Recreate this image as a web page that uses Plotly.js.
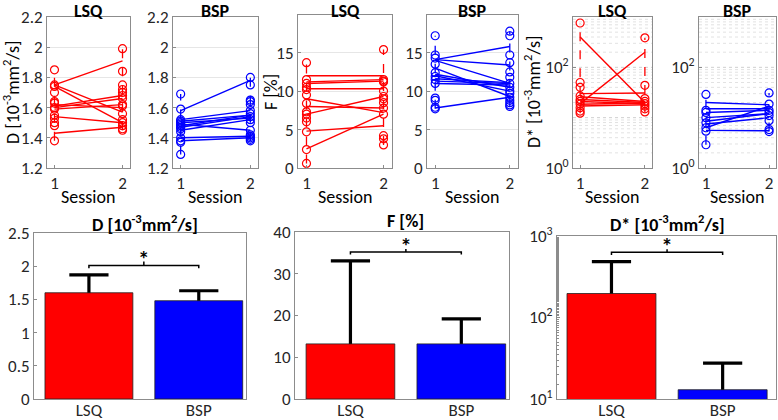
<!DOCTYPE html>
<html><head><meta charset="utf-8">
<script src="https://cdn.plot.ly/plotly-3.0.1.min.js"></script>
<style>html,body{margin:0;padding:0;background:#fff}#c{width:778px;height:420px}</style>
</head><body><div id="c"></div>
<script>
// ---------- data ----------
const sessions = [1, 2];
const methods = ['LSQ', 'BSP'];

// D [10^-3 mm^2/s] individual values (circles) and paired subject lines
const dLsqS1 = [1.85,1.75,1.74,1.70,1.64,1.63,1.60,1.59,1.55,1.53,1.50,1.48,1.38];
const dLsqS2 = [1.99,1.84,1.75,1.72,1.70,1.68,1.66,1.62,1.61,1.56,1.52,1.50,1.48,1.46,1.45];
const dLsqPair1 = [1.75,1.75,1.74,1.61,1.60,1.59,1.62,1.54,1.43];
const dLsqPair2 = [1.91,1.57,1.50,1.68,1.66,1.62,1.60,1.50,1.47];

const dBspS1 = [1.69,1.59,1.52,1.51,1.50,1.49,1.48,1.47,1.46,1.44,1.40,1.38,1.37,1.29];
const dBspS2 = [1.80,1.75,1.65,1.64,1.62,1.58,1.56,1.54,1.52,1.50,1.45,1.42,1.41,1.40,1.39,1.38];
const dBspPair1 = [1.58,1.52,1.51,1.50,1.49,1.48,1.45,1.40,1.38,1.47];
const dBspPair2 = [1.78,1.58,1.55,1.53,1.45,1.55,1.52,1.41,1.40,1.54];

// F [%]
const fLsqS1 = [13.7,11.5,11.0,10.5,10.2,9.5,8.4,7.3,7.0,6.5,6.0,4.7,2.4,0.6];
const fLsqS2 = [15.4,11.5,11.3,11.2,10.0,9.3,9.0,8.5,7.8,7.0,4.2,3.8,3.0];
const fLsqPair1 = [12.0,11.2,11.0,10.3,9.0,8.0,7.0,4.8,2.5];
const fLsqPair2 = [12.0,11.5,11.3,10.3,7.2,7.8,9.3,5.5,7.0];

const fBspS1 = [17.2,14.7,14.3,13.5,12.4,11.9,11.5,11.0,9.1,8.8,7.9,7.7];
const fBspS2 = [17.8,17.2,14.7,13.7,12.5,11.8,11.0,10.5,10.0,9.7,9.2,8.8,8.5,8.2,8.0];
const fBspPair1 = [14.1,14.1,14.0,13.0,12.2,11.6,11.3,11.0,7.8,12.0];
const fBspPair2 = [15.8,13.4,11.0,9.3,10.5,11.1,11.0,10.8,9.2,10.0];

// D* [10^-3 mm^2/s]
const dsLsqS1 = [760,50,40,27,23,21,18.6,15.8,13.5,12.3];
const dsLsqS2 = [385,44,24,21,19,17,15,13];
const dsLsqPair1 = [400,19,30,26,23,21,18.5,17];
const dsLsqPair2 = [20,200,31,21,20,19,19.5,18];

const dsBspS1 = [29,14,12.7,10,7.9,6.3,5.4,2.9];
const dsBspS2 = [31,18.6,14,12.6,11,8.7,5.8,5.3];
const dsBspPair1 = [20,15,12.7,10,8.5,6.3,5.6,7.5];
const dsBspPair2 = [18,15,14,12,12,17,5.5,10];

// bar summaries (mean, upper error)
const barD = [1.60, 1.48];   const errD = [0.27, 0.15];
const barF = [13.2, 13.2];   const errF = [19.9, 6.0];
const barDs = [197, 13];     const errDs = [289, 14.6];
// significance bracket levels: [end, bar, centre tick, star]
const sigD = [1.97, 2.01, 2.07, 2.08];
const sigF = [34.6, 35.2, 35.9, 36.2];
const sigDs = [585, 631, 687, 715];

// ---------- build ----------
const RED = '#ff0000', BLUE = '#0000ff';
const FONT = 'Carlito, Lato, sans-serif';
const traces = [];

function scatterPanel(s1, s2, p1, p2, color, n) {
  const xa = 'x' + n, ya = 'y' + n;
  [[sessions[0], s1], [sessions[1], s2]].forEach(([sx, arr]) => {
    traces.push({type:'scatter', mode:'lines', x:[sx, sx], y:[Math.min(...arr), Math.max(...arr)],
      line:{color:color, width:1.3, dash:'dash'}, xaxis:xa, yaxis:ya, hoverinfo:'skip'});
  });
  for (let i = 0; i < p1.length; i++) {
    traces.push({type:'scatter', mode:'lines', x:[sessions[0], sessions[1]], y:[p1[i], p2[i]],
      line:{color:color, width:1.4}, xaxis:xa, yaxis:ya, hoverinfo:'skip'});
  }
  traces.push({type:'scatter', mode:'markers',
    x: s1.map(() => sessions[0]).concat(s2.map(() => sessions[1])),
    y: s1.concat(s2),
    marker:{symbol:'circle-open', size:8, color:color, line:{width:1.2, color:color}},
    xaxis:xa, yaxis:ya});
}

scatterPanel(dLsqS1, dLsqS2, dLsqPair1, dLsqPair2, RED, 1);
scatterPanel(dBspS1, dBspS2, dBspPair1, dBspPair2, BLUE, 2);
scatterPanel(fLsqS1, fLsqS2, fLsqPair1, fLsqPair2, RED, 3);
scatterPanel(fBspS1, fBspS2, fBspPair1, fBspPair2, BLUE, 4);
scatterPanel(dsLsqS1, dsLsqS2, dsLsqPair1, dsLsqPair2, RED, 5);
scatterPanel(dsBspS1, dsBspS2, dsBspPair1, dsBspPair2, BLUE, 6);

function barPanel(vals, errs, sig, n) {
  const xa = 'x' + n, ya = 'y' + n;
  const xi = methods.map((m, i) => i);
  traces.push({type:'bar', x:xi, y:vals, width:0.8,
    marker:{color:[RED, BLUE], line:{color:'#222', width:0.8}},
    xaxis:xa, yaxis:ya});
  traces.push({type:'scatter', mode:'markers', x:xi, y:vals.map((v, i) => v + errs[i]),
    marker:{symbol:'line-ew-open', size:28, color:'#000', line:{color:'#000', width:3.2}},
    error_y:{type:'data', symmetric:false, array:vals.map(() => 0), arrayminus:errs,
      color:'#000', thickness:3.2, width:0},
    xaxis:xa, yaxis:ya, hoverinfo:'skip'});
  traces.push({type:'scatter', mode:'lines',
    x:[xi[0], xi[0], 0.5, 0.5, 0.5, xi[1], xi[1]],
    y:[sig[0], sig[1], sig[1], sig[2], sig[1], sig[1], sig[0]],
    line:{color:'#000', width:1.5}, xaxis:xa, yaxis:ya, hoverinfo:'skip'});
  traces.push({type:'scatter', mode:'text', x:[0.5], y:[sig[3]], text:['<b>*</b>'],
    textposition:'middle center',
    textfont:{family:FONT, size:23, color:'#000'}, xaxis:xa, yaxis:ya, hoverinfo:'skip'});
}
barPanel(barD, errD, sigD, 7);
barPanel(barF, errF, sigF, 8);
barPanel(barDs, errDs, sigDs, 9);

const W = 778, H = 420;
const px = (a, b) => [a / W, b / W];
const py = (top, bot) => [(H - bot) / H, (H - top) / H];
const AX = '#8c8c8c';
const baseAx = {linecolor:AX, linewidth:1, mirror:true, showline:true, ticks:'inside', ticklen:3,
  tickcolor:AX, zeroline:false, tickfont:{family:FONT, size:17, color:'#262626'}, fixedrange:true};
const gx = (dom) => Object.assign({}, baseAx, {domain:dom, range:[0.89, 2.11], tickvals:sessions, showgrid:false});
const gy = (dom, extra) => Object.assign({}, baseAx, {domain:dom, showgrid:true, gridcolor:'#e6e6e6'}, extra);
const bx = (dom, r) => Object.assign({}, baseAx, {domain:dom, range:r, tickvals:[0, 1], ticktext:methods,
  showgrid:false, ticks:'', ticklabelstandoff:-4, tickfont:{family:FONT, size:17, color:'#262626'}});
const by = (dom, extra) => Object.assign({}, baseAx, {domain:dom, showgrid:false}, extra);

const topY = py(17, 168);
const logTicksTop = {type:'log', range:[0, 3], tickvals:[1, 100], ticktext:['10<sup>0</sup>', '10<sup>2</sup>'], showgrid:false};

const layout = {
  width:W, height:H, margin:{l:0, r:0, t:0, b:0}, showlegend:false,
  paper_bgcolor:'#fff', plot_bgcolor:'#fff', font:{family:FONT, color:'#262626'},
  xaxis:gx(px(47, 130)), yaxis:gy(topY, {anchor:'x', range:[1.2, 2.2], dtick:0.2, tickformat:'~g'}),
  xaxis2:gx(px(173, 258)), yaxis2:gy(topY, {anchor:'x2', range:[1.2, 2.2], dtick:0.2, tickformat:'~g'}),
  xaxis3:gx(px(298, 392)), yaxis3:gy(py(15, 168), {anchor:'x3', range:[0, 19.9], tickvals:[0, 5, 10, 15]}),
  xaxis4:gx(px(427, 518)), yaxis4:gy(py(15, 168), {anchor:'x4', range:[0, 19.9], tickvals:[0, 5, 10, 15]}),
  xaxis5:gx(px(573, 652)), yaxis5:gy(topY, Object.assign({anchor:'x5'}, logTicksTop)),
  xaxis6:gx(px(699, 776)), yaxis6:gy(topY, Object.assign({anchor:'x6'}, logTicksTop)),
  xaxis7:bx(px(34, 246), [-0.5, 1.43]), yaxis7:by(py(233, 399), {anchor:'x7', range:[0, 2.5], dtick:0.5}),
  xaxis8:bx(px(295, 509), [-0.5, 1.43]), yaxis8:by(py(232, 399), {anchor:'x8', range:[0, 40], dtick:10}),
  xaxis9:bx(px(557, 776), [-0.49, 1.48]), yaxis9:by(py(236, 399), {anchor:'x9', type:'log', range:[1, 3],
    tickvals:[10, 100, 1000], ticktext:['10<sup>1</sup>', '10<sup>2</sup>', '10<sup>3</sup>'],
    minor:{ticks:'inside', ticklen:2, tickcolor:AX, showgrid:false}}),
  annotations:[], shapes:[]
};
['x', 'x2', 'x3', 'x4', 'x5', 'x6', 'x7', 'x8', 'x9'].forEach((a, i) => {
  layout['xaxis' + (i ? i + 1 : '')].anchor = 'y' + (i ? i + 1 : '');
});

// dotted log grid (decades + minor) on the top D* panels
[5, 6].forEach(n => {
  for (let k = 0; k < 3; k++) for (let m = 1; m <= 9; m++) {
    if (k === 0 && m === 1) continue;
    const v = m * Math.pow(10, k);
    layout.shapes.push({type:'line', xref:'x' + n + ' domain', yref:'y' + n, x0:0, x1:1, y0:v, y1:v,
      line:{color: m === 1 ? '#cfcfcf' : '#e2e2e2', width:1, dash:'dot'}, layer:'below'});
  }
});

const ann = (text, x, y, size, bold, angle) => layout.annotations.push({
  text: bold ? '<b>' + text + '</b>' : text, x:x / W, y:(H - y) / H, xref:'paper', yref:'paper',
  showarrow:false, xanchor:'center', yanchor:'middle', textangle:angle || 0,
  font:{family:FONT, size:size, color:'#000'}});

[[88, 'LSQ'], [215, 'BSP'], [345, 'LSQ'], [472, 'BSP'], [612, 'LSQ'], [737, 'BSP']].forEach(([x, t]) => {
  ann(t, x, 11, 18, true);
  ann('Session', x, 197, 18, false);
});
ann('D [10<sup>-3</sup>mm<sup>2</sup>/s]', 11, 92, 18, false, -90);
ann('F [%]', 271, 92, 18, false, -90);
ann('D* [10<sup>-3</sup>mm<sup>2</sup>/s]', 532, 92, 18, false, -90);
ann('D [10<sup>-3</sup>mm<sup>2</sup>/s]', 145, 223, 18, true);
ann('F [%]', 405, 221, 18, true);
ann('D* [10<sup>-3</sup>mm<sup>2</sup>/s]', 667, 223, 18, true);

Plotly.newPlot('c', traces, layout, {staticPlot:true, displayModeBar:false});
</script></body></html>
